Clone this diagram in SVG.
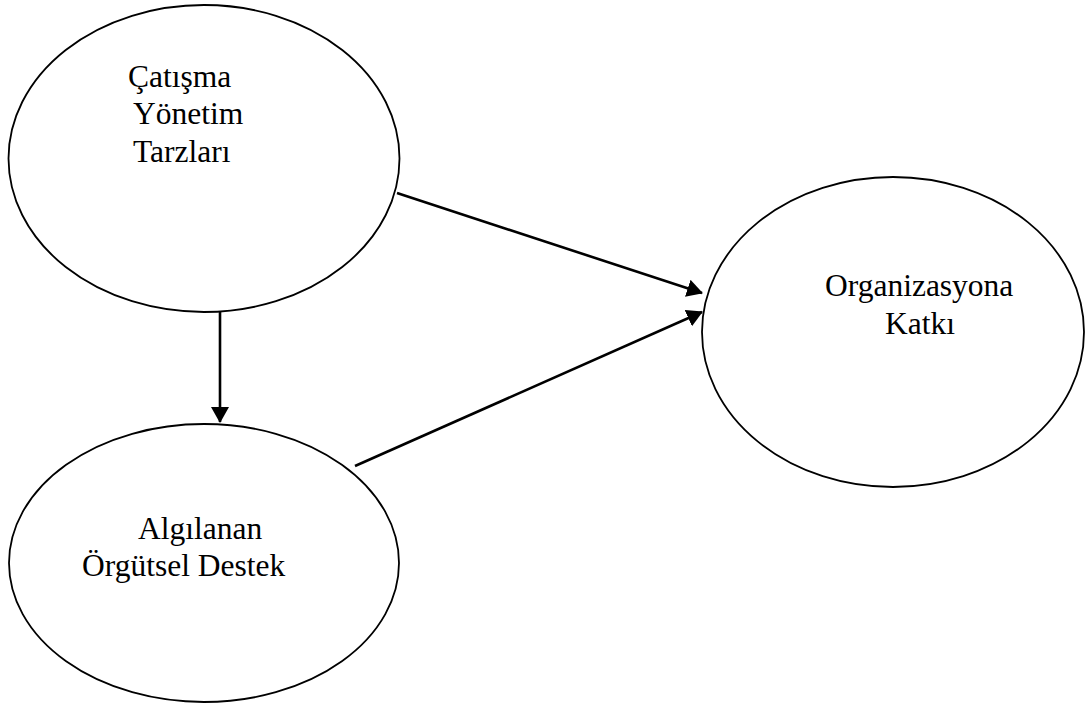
<svg xmlns="http://www.w3.org/2000/svg" width="1085" height="704" viewBox="0 0 1085 704">
  <style>
    .node { fill: #ffffff; stroke: #000000; stroke-width: 1.8; }
    .label { font-family: "Liberation Serif", "Times New Roman", serif; font-size: 31.5px; fill: #000000; }
    .link { stroke: #000000; stroke-width: 2.6; fill: none; marker-end: url(#head); }
  </style>
  <defs>
    <marker id="head" markerUnits="userSpaceOnUse" markerWidth="16" markerHeight="18" viewBox="0 0 16 18" refX="15" refY="9" orient="auto">
      <path d="M0,0 L16,9 L0,18 Z" fill="#000000"/>
    </marker>
  </defs>

  <rect x="0" y="0" width="1085" height="704" fill="#ffffff"/>

  <g id="node-catisma">
    <ellipse class="node" cx="204" cy="158.5" rx="195.5" ry="153.5"/>
    <text class="label" x="128" y="87">Çatışma</text>
    <text class="label" x="133" y="124">Yönetim</text>
    <text class="label" x="133" y="162">Tarzları</text>
  </g>

  <g id="node-destek">
    <ellipse class="node" cx="204" cy="563" rx="195" ry="139"/>
    <text class="label" x="138" y="539">Algılanan</text>
    <text class="label" x="82" y="576">Örgütsel Destek</text>
  </g>

  <g id="node-katki">
    <ellipse class="node" cx="893" cy="332" rx="191" ry="155"/>
    <text class="label" x="825" y="296">Organizasyona</text>
    <text class="label" x="885" y="334">Katkı</text>
  </g>

  <g id="connectors">
    <line class="link" x1="220" y1="311" x2="220" y2="422"/>
    <line class="link" x1="397" y1="193" x2="702" y2="293"/>
    <line class="link" x1="355" y1="466" x2="702" y2="312"/>
  </g>
</svg>
